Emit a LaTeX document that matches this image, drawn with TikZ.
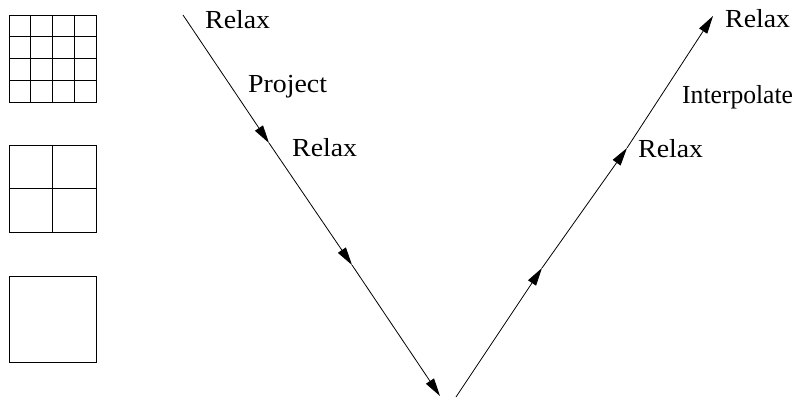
\documentclass[tikz,border=0pt]{standalone}
\usepackage{fontspec}
\setmainfont{Liberation Serif}
\usetikzlibrary{arrows.meta}
\begin{document}
\begin{tikzpicture}[x=1pt,y=-1pt,
  gridline/.style={line width=0.8pt},
  vleg/.style={line width=0.8pt,-{Triangle[length=18pt,width=9.5pt]}},
  lbl/.style={font=\fontsize{26}{31}\selectfont,anchor=base west,inner sep=0pt,xscale=1.07}]
\useasboundingbox (0,0) rectangle (808,397);

% fine, medium and coarse grids
\draw[gridline] (9,15) rectangle (96,102);
\foreach \t in {1,2,3} {
  \draw[gridline] ({9+21.75*\t},15) -- ({9+21.75*\t},102);
  \draw[gridline] (9,{15+21.75*\t}) -- (96,{15+21.75*\t});
}
\draw[gridline] (9,145) rectangle (96,232);
\draw[gridline] (52.5,145) -- (52.5,232);
\draw[gridline] (9,188.5) -- (96,188.5);
\draw[gridline] (9,276) rectangle (96,362);

% points of the V-cycle
\coordinate (d0) at (183,15);
\coordinate (d1) at (269,143);
\coordinate (d2) at (352,265);
\coordinate (d3) at (440,396);
\coordinate (u0) at (456,397);
\coordinate (u1) at (542,268);
\coordinate (u2) at (627,148);
\coordinate (u3) at (713,16);

% descending leg
\draw[vleg] (d0) -- (d1);
\draw[vleg] (d1) -- (d2);
\draw[vleg] (d2) -- (d3);
% ascending leg
\draw[vleg] (u0) -- (u1);
\draw[vleg] (u1) -- (u2);
\draw[vleg] (u2) -- (u3);

% labels
\node[lbl] (relaxA) at (205,28) {Relax};
\node[lbl] (project) at (248,92) {Project};
\node[lbl] (relaxB) at (292,156) {Relax};
\node[lbl] (relaxC) at (638,157) {Relax};
\node[lbl,xscale=0.92] (interp) at (682,103) {Interpolate};
\node[lbl] (relaxD) at (725,27) {Relax};
\end{tikzpicture}
\end{document}
